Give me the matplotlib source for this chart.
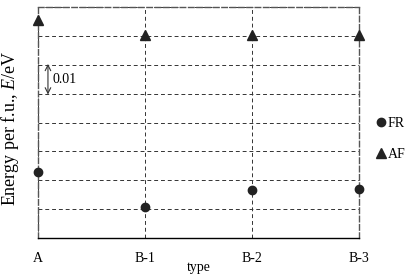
import matplotlib
matplotlib.use("Agg")
import matplotlib.pyplot as plt
import numpy as np

types = ["A", "B-1", "B-2", "B-3"]
fr = [0.0228, 0.0107, 0.0166, 0.0170]
af = [0.0754, 0.0702, 0.0702, 0.0702]

plt.rcParams['font.family'] = ['Liberation Serif', 'DejaVu Serif']
plt.rcParams['mathtext.fontset'] = 'custom'
plt.rcParams['mathtext.it'] = 'Liberation Serif:italic'
plt.rcParams['mathtext.rm'] = 'Liberation Serif'

fig = plt.figure(figsize=(4.1, 2.76), dpi=100)
ax = fig.add_axes([0.0927, 0.1377, 0.7829, 0.8369])

X = np.arange(len(types))
ax.plot(X, fr, 'o', color='#222222', markersize=6, clip_on=False, label='FR', zorder=5)
ax.plot(X, af, '^', color='#222222', markersize=6.5, clip_on=False, label='AF', zorder=5)

ax.set_xlim(0, 3)
ax.set_ylim(0, 0.08)
ax.set_yticks(np.arange(0.01, 0.08, 0.01))
ax.set_yticklabels([])
ax.set_xticks(X, types)
ax.tick_params(length=0, labelsize=10, pad=10)
ax.grid(True, linestyle=(0, (4, 3)), color='#333333', linewidth=0.7)

for s in ['left', 'top', 'right']:
    ax.spines[s].set_linestyle((0, (4, 2)))
    ax.spines[s].set_color('#555555')
    ax.spines[s].set_linewidth(1.0)
ax.spines['bottom'].set_color('black')
ax.spines['bottom'].set_linewidth(1.0)

ax.annotate('', xy=(0.093, 0.0497), xytext=(0.093, 0.0603),
            arrowprops=dict(arrowstyle='<->', color='#333333', lw=0.8, shrinkA=0, shrinkB=0))
ax.text(0.14, 0.055, '0.01', fontsize=10, va='center', ha='left')

ax.set_xlabel('type', fontsize=10, labelpad=-3)
fig.text(0.024, 0.535, 'Energy per f.u., $E$/eV', fontsize=13, rotation=90,
         ha='center', va='center')

fig.legend(loc='upper left', bbox_to_anchor=(0.92, 0.575), frameon=False,
           fontsize=10, handlelength=0.6, handletextpad=0.15, labelspacing=1.3,
           borderpad=0, borderaxespad=0)

fig.savefig('out.png', dpi=100)
